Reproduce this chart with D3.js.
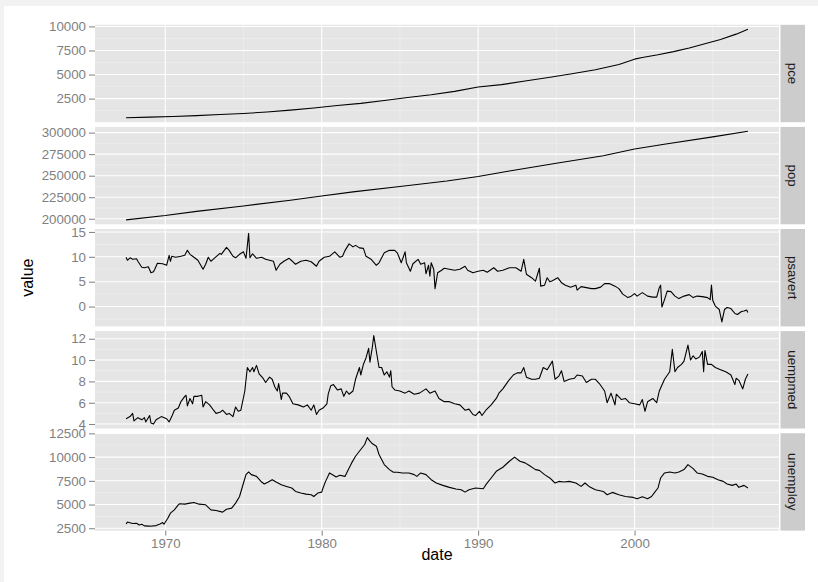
<!DOCTYPE html>
<html><head><meta charset="utf-8">
<script src="https://cdn.jsdelivr.net/npm/d3@7"></script>
<style>html,body{margin:0;padding:0;background:#f2f2f2;}svg{display:block;}</style>
</head><body>
<svg id="chart" width="818" height="582"></svg>
<script>
// ---------- DATA ----------
const facetNames = ["pce", "pop", "psavert", "uempmed", "unemploy"];

const pce = [["1967-07",507],["1969-01",575],["1970-07",645],["1972-01",730],["1973-07",840],["1975-01",950],
["1976-07",1110],["1978-01",1300],["1979-07",1530],["1981-01",1780],["1982-07",2000],["1984-01",2300],
["1985-07",2620],["1987-01",2900],["1988-07",3250],["1990-01",3700],["1991-07",3950],["1993-01",4330],
["1994-07",4700],["1996-01",5080],["1997-07",5500],["1999-01",6050],["2000-01",6600],["2000-07",6780],
["2001-07",7050],["2002-07",7380],["2003-07",7750],["2004-07",8200],["2005-07",8650],["2006-07",9200],["2007-04",9710]];

const pop = [["1967-07",198712],["1970-01",203700],["1972-01",208600],["1975-01",214900],["1978-01",221500],
["1980-01",226500],["1982-01",231200],["1985-01",237500],["1988-01",243900],["1990-01",249000],["1992-01",255400],
["1995-01",264500],["1998-01",273200],["2000-01",280900],["2002-01",286700],["2005-01",295100],["2007-04",301500]];

const psavert = [["1967-07",9.9],["1967-08",9.3],["1967-10",9.8],["1967-12",9.5],["1968-03",9.6],["1968-04",9.1],
["1968-07",7.9],["1968-09",7.8],["1968-12",8.0],["1969-02",6.8],["1969-04",7.0],["1969-05",7.5],["1969-07",8.7],
["1969-11",8.6],["1970-02",8.3],["1970-04",10.3],["1970-05",9.1],["1970-06",10.1],["1970-09",9.9],["1971-01",10.1],
["1971-04",10.3],["1971-06",11.3],["1971-08",10.5],["1971-11",9.9],["1972-02",9.3],["1972-06",7.5],["1972-08",8.5],
["1972-10",9.9],["1972-12",9.1],["1973-03",9.8],["1973-07",10.7],["1973-08",10.5],["1973-12",11.9],["1974-02",11.3],
["1974-05",10.1],["1974-07",9.8],["1974-10",10.5],["1975-01",11.0],["1975-03",9.7],["1975-05",14.7],["1975-06",9.8],
["1975-08",10.6],["1975-11",9.7],["1976-03",9.9],["1976-06",9.5],["1976-12",9.1],["1977-02",7.3],["1977-05",8.5],
["1977-08",9.1],["1977-12",9.7],["1978-03",9.0],["1978-05",8.5],["1978-09",9.1],["1979-01",9.3],["1979-05",9.0],
["1979-09",8.1],["1979-11",9.1],["1980-03",9.9],["1980-07",10.1],["1980-11",11.0],["1981-03",9.9],["1981-05",10.1],
["1981-07",11.3],["1981-10",12.6],["1982-01",12.0],["1982-03",12.3],["1982-06",11.8],["1982-09",11.7],["1982-11",10.1],
["1983-03",9.5],["1983-07",8.3],["1983-09",8.8],["1984-01",10.8],["1984-05",11.3],["1984-09",11.3],["1984-11",10.8],
["1985-02",8.8],["1985-05",11.0],["1985-06",8.8],["1985-09",7.1],["1985-11",8.6],["1986-03",9.5],["1986-05",8.5],
["1986-08",8.8],["1986-09",6.6],["1986-11",8.3],["1986-12",6.1],["1987-01",8.8],["1987-03",7.5],["1987-04",3.6],
["1987-06",6.8],["1987-09",7.3],["1987-11",7.7],["1988-03",7.5],["1988-07",7.3],["1988-11",7.5],["1989-03",8.1],
["1989-05",7.3],["1989-09",6.8],["1990-01",7.1],["1990-05",7.3],["1990-08",6.9],["1991-01",7.8],["1991-04",7.1],
["1991-08",7.3],["1992-01",7.8],["1992-06",7.8],["1992-10",7.1],["1992-12",9.5],["1993-02",6.5],["1993-06",5.8],
["1993-09",5.1],["1993-12",7.7],["1994-01",4.1],["1994-04",4.3],["1994-06",5.8],["1994-08",5.0],["1994-10",5.2],
["1995-02",5.8],["1995-05",4.8],["1995-08",4.3],["1995-12",3.9],["1996-04",4.3],["1996-05",3.3],["1996-08",4.0],
["1996-12",3.8],["1997-04",3.6],["1997-07",3.6],["1997-11",3.9],["1998-02",4.6],["1998-06",4.6],["1998-10",4.1],
["1999-01",3.6],["1999-04",2.5],["1999-08",1.8],["1999-10",2.0],["2000-01",2.6],["2000-03",2.1],["2000-07",2.8],
["2000-11",2.1],["2001-03",1.9],["2001-06",1.9],["2001-08",3.8],["2001-09",4.3],["2001-10",-0.1],["2001-12",1.4],
["2002-02",3.1],["2002-05",3.0],["2002-08",2.1],["2002-11",1.6],["2003-03",2.1],["2003-07",2.4],["2003-10",1.8],
["2004-01",2.1],["2004-05",2.0],["2004-09",1.8],["2004-11",1.4],["2004-12",4.3],["2005-01",1.2],["2005-03",0.1],
["2005-06",-0.6],["2005-08",-3.1],["2005-10",-0.6],["2005-12",-0.2],["2006-03",-0.4],["2006-06",-1.4],["2006-08",-1.6],
["2006-11",-1.0],["2007-01",-0.9],["2007-03",-0.7],["2007-04",-1.2]];

const uempmed = [["1967-07",4.5],["1967-10",4.7],["1967-12",5.0],["1968-01",4.3],["1968-04",4.6],["1968-07",4.4],
["1968-09",4.6],["1968-10",4.2],["1969-01",4.8],["1969-02",4.1],["1969-04",4.0],["1969-06",4.4],["1969-10",4.7],
["1970-02",4.5],["1970-04",4.2],["1970-06",4.7],["1970-08",5.3],["1970-11",5.5],["1971-01",6.1],["1971-04",6.6],
["1971-05",6.7],["1971-06",5.7],["1971-08",6.4],["1971-10",5.9],["1971-11",6.6],["1972-02",6.6],["1972-05",6.7],
["1972-06",5.6],["1972-08",6.1],["1972-11",5.8],["1973-02",5.3],["1973-04",5.0],["1973-07",5.1],["1973-09",5.3],
["1973-12",4.9],["1974-02",5.0],["1974-05",4.7],["1974-07",5.6],["1974-09",5.2],["1974-11",5.3],["1975-02",7.1],
["1975-04",9.3],["1975-06",8.9],["1975-08",9.3],["1975-09",8.9],["1975-11",9.5],["1976-01",8.7],["1976-04",8.3],
["1976-06",7.9],["1976-09",8.4],["1976-11",8.2],["1977-01",7.5],["1977-03",7.1],["1977-04",7.8],["1977-06",6.3],
["1977-07",6.9],["1977-10",6.9],["1977-12",6.6],["1978-03",5.9],["1978-07",5.8],["1978-11",5.6],["1979-02",5.8],
["1979-05",5.3],["1979-07",5.8],["1979-09",4.9],["1979-11",5.3],["1980-02",5.5],["1980-05",5.9],["1980-06",6.8],
["1980-08",7.6],["1980-10",7.7],["1981-01",7.2],["1981-04",7.3],["1981-06",6.6],["1981-08",7.1],["1981-10",6.8],
["1982-01",7.1],["1982-03",8.2],["1982-06",9.3],["1982-07",8.6],["1982-09",9.6],["1982-11",10.2],["1983-01",11.1],
["1983-02",9.8],["1983-04",11.3],["1983-05",12.3],["1983-07",10.8],["1983-09",9.3],["1983-11",9.3],["1984-01",8.6],
["1984-03",8.9],["1984-05",8.4],["1984-06",9.0],["1984-07",7.5],["1984-09",7.2],["1985-01",7.1],["1985-05",6.9],
["1985-08",7.1],["1985-12",6.8],["1986-04",6.9],["1986-09",7.3],["1986-12",6.9],["1987-04",7.1],["1987-07",6.4],
["1987-11",6.1],["1988-03",6.1],["1988-07",5.9],["1988-11",5.8],["1989-03",5.3],["1989-06",5.4],["1989-09",4.9],
["1989-11",4.8],["1990-02",5.2],["1990-04",4.8],["1990-07",5.3],["1990-11",5.8],["1991-03",6.4],["1991-05",6.9],
["1991-08",7.3],["1991-12",8.0],["1992-04",8.6],["1992-07",8.8],["1992-10",8.8],["1992-12",9.3],["1993-02",8.4],
["1993-06",8.2],["1993-09",8.2],["1993-12",8.3],["1994-03",9.3],["1994-06",9.1],["1994-10",9.9],["1994-12",8.2],
["1995-03",8.5],["1995-05",9.0],["1995-07",8.0],["1995-11",8.2],["1996-03",8.3],["1996-05",8.6],["1996-09",8.5],
["1996-12",7.9],["1997-04",8.2],["1997-07",8.2],["1997-10",7.8],["1998-02",7.1],["1998-04",6.0],["1998-07",6.9],
["1998-10",5.8],["1998-11",6.8],["1999-03",6.3],["1999-06",6.4],["1999-09",6.0],["2000-01",5.9],["2000-05",5.8],
["2000-07",6.3],["2000-09",5.2],["2000-11",6.1],["2001-03",6.4],["2001-06",6.0],["2001-08",7.1],["2001-12",8.2],
["2002-04",8.9],["2002-06",11.0],["2002-08",8.9],["2002-10",9.3],["2003-01",9.6],["2003-03",9.9],["2003-06",11.4],
["2003-08",10.0],["2003-10",10.4],["2003-12",10.1],["2004-03",10.3],["2004-05",10.8],["2004-06",8.9],["2004-07",10.9],
["2004-09",9.6],["2004-12",9.6],["2005-03",9.3],["2005-07",9.1],["2005-11",8.9],["2006-03",8.6],["2006-06",7.7],
["2006-07",8.3],["2006-09",8.1],["2006-12",7.3],["2007-02",8.2],["2007-04",8.7]];

const unemploy = [["1967-07",2944],["1967-08",3150],["1967-12",3000],["1968-03",3030],["1968-05",2850],["1968-07",2920],
["1968-09",2750],["1969-01",2720],["1969-06",2780],["1969-09",2960],["1969-11",3100],["1969-12",2920],["1970-03",3560],
["1970-05",4090],["1970-08",4440],["1970-11",4970],["1970-12",5080],["1971-04",5040],["1971-08",5150],["1971-11",5220],
["1972-03",5040],["1972-08",4970],["1972-12",4440],["1973-04",4370],["1973-09",4200],["1973-12",4510],["1974-04",4620],
["1974-07",5150],["1974-10",5850],["1975-01",7270],["1975-03",8150],["1975-05",8430],["1975-07",8150],["1975-11",7970],
["1976-03",7370],["1976-05",7160],["1976-08",7370],["1976-11",7620],["1977-02",7370],["1977-06",7090],["1977-10",6910],
["1978-02",6740],["1978-05",6380],["1978-09",6210],["1979-01",6100],["1979-05",6030],["1979-07",5850],["1979-10",6210],
["1980-01",6310],["1980-02",6740],["1980-04",7440],["1980-07",8330],["1980-10",8080],["1980-12",7900],["1981-03",8080],
["1981-07",7970],["1981-09",8570],["1981-12",9390],["1982-03",10090],["1982-07",10800],["1982-10",11330],["1982-12",12051],
["1983-02",11680],["1983-04",11400],["1983-07",11150],["1983-09",10270],["1984-01",9210],["1984-05",8680],["1984-08",8400],
["1984-11",8400],["1985-03",8330],["1985-08",8330],["1985-12",8150],["1986-02",7970],["1986-05",8330],["1986-09",8150],
["1987-01",7620],["1987-05",7270],["1987-10",7020],["1988-03",6810],["1988-08",6630],["1988-12",6560],["1989-03",6310],
["1989-06",6560],["1989-11",6740],["1990-05",6670],["1990-07",7090],["1990-11",7800],["1991-03",8500],["1991-08",8930],
["1992-01",9560],["1992-05",9990],["1992-09",9560],["1993-01",9390],["1993-04",9140],["1993-09",8680],["1993-12",8600],
["1994-04",8150],["1994-08",7800],["1994-12",7270],["1995-03",7440],["1995-07",7370],["1995-11",7440],["1996-04",7270],
["1996-08",6910],["1996-11",7270],["1997-02",6910],["1997-07",6560],["1998-01",6380],["1998-04",6030],["1998-08",6280],
["1999-01",6030],["1999-06",5850],["1999-12",5750],["2000-03",5610],["2000-07",5820],["2000-11",5610],["2001-02",5850],
["2001-04",6210],["2001-07",6740],["2001-09",7800],["2001-12",8330],["2002-04",8430],["2002-08",8330],["2002-11",8430],
["2003-03",8680],["2003-06",9210],["2003-10",8790],["2004-01",8330],["2004-05",8220],["2004-09",7970],["2005-01",7870],
["2005-05",7620],["2005-09",7440],["2005-12",7160],["2006-04",7020],["2006-07",7160],["2006-09",6810],["2007-01",7020],
["2007-04",6740]];

const xTickLabels = ["1970", "1980", "1990", "2000"];
const pceTicks = [2500, 5000, 7500, 10000];
const popTicks = [200000, 225000, 250000, 275000, 300000];
const psavertTicks = [0, 5, 10, 15];
const uempmedTicks = [4, 6, 8, 10, 12];
const unemployTicks = [2500, 5000, 7500, 10000, 12500];

// ---------- LAYOUT ----------
const W = 818, H = 582;
const panelL = 95, panelR = 779;
const panelTop = 24.8, panelH = 97.4, panelGap = 4.7;
const stripX = 780.5, stripW = 24.5;
const font = "'Liberation Sans', Arial, Helvetica, sans-serif";

const parse = d3.timeParse("%Y-%m");
const seriesList = [pce, pop, psavert, uempmed, unemploy];
const tickList = [pceTicks, popTicks, psavertTicks, uempmedTicks, unemployTicks];
const facets = facetNames.map((name, i) => ({
  name,
  data: seriesList[i].map(([d, v]) => ({date: parse(d), value: v})),
  ticks: tickList[i]
}));

const svg = d3.select("#chart");
svg.append("rect").attr("width", W).attr("height", H).attr("fill", "#f2f2f2");
svg.append("rect").attr("x", 4).attr("y", 6).attr("width", W - 4).attr("height", H - 6).attr("fill", "#ffffff");

const allDates = facets.flatMap(f => f.data.map(d => d.date));
const dExt = d3.extent(allDates);
const dPad = (dExt[1] - dExt[0]) * 0.05;
const x = d3.scaleTime()
  .domain([new Date(+dExt[0] - dPad), new Date(+dExt[1] + dPad)])
  .range([panelL, panelR]);
const xMajor = xTickLabels.map(s => d3.timeParse("%Y")(s));
const xMinor = [];
for (let i = 0; i <= xMajor.length; i++) {
  const a = i === 0 ? new Date(+xMajor[0] - (xMajor[1] - xMajor[0])) : xMajor[i - 1];
  const b = i === xMajor.length ? new Date(+xMajor[i - 1] + (xMajor[1] - xMajor[0])) : xMajor[i];
  const m = new Date((+a + +b) / 2);
  if (m >= x.domain()[0] && m <= x.domain()[1]) xMinor.push(m);
}

const fmt = d3.format("d");

facets.forEach((f, i) => {
  const top = panelTop + i * (panelH + panelGap);
  const bottom = top + panelH;
  const vExt = d3.extent(f.data, d => d.value);
  const vPad = (vExt[1] - vExt[0]) * 0.05;
  const y = d3.scaleLinear().domain([vExt[0] - vPad, vExt[1] + vPad]).range([bottom, top]);
  const g = svg.append("g");

  g.append("rect").attr("x", panelL).attr("y", top).attr("width", panelR - panelL).attr("height", panelH).attr("fill", "#e5e5e5");

  // minor y grid
  const step = f.ticks[1] - f.ticks[0];
  const yMinor = [];
  for (let k = -1; k < f.ticks.length; k++) {
    const m = f.ticks[0] + step * (k + 0.5);
    if (m >= y.domain()[0] && m <= y.domain()[1]) yMinor.push(m);
  }
  g.selectAll(".ymin").data(yMinor).join("line")
    .attr("x1", panelL).attr("x2", panelR).attr("y1", d => y(d)).attr("y2", d => y(d))
    .attr("stroke", "#f2f2f2").attr("stroke-width", 0.55);
  g.selectAll(".xmin").data(xMinor).join("line")
    .attr("x1", d => x(d)).attr("x2", d => x(d)).attr("y1", top).attr("y2", bottom)
    .attr("stroke", "#f2f2f2").attr("stroke-width", 0.55);
  // major grid
  g.selectAll(".ymaj").data(f.ticks).join("line")
    .attr("x1", panelL).attr("x2", panelR).attr("y1", d => y(d)).attr("y2", d => y(d))
    .attr("stroke", "#ffffff").attr("stroke-width", 1.1);
  g.selectAll(".xmaj").data(xMajor).join("line")
    .attr("x1", d => x(d)).attr("x2", d => x(d)).attr("y1", top).attr("y2", bottom)
    .attr("stroke", "#ffffff").attr("stroke-width", 1.1);

  // line
  const line = d3.line().x(d => x(d.date)).y(d => y(d.value));
  g.append("path").datum(f.data).attr("d", line)
    .attr("fill", "none").attr("stroke", "#000").attr("stroke-width", 1.1).attr("stroke-linejoin", "round");

  // y axis
  const yAxis = d3.axisLeft(y).tickValues(f.ticks).tickFormat(fmt).tickSize(6).tickPadding(3);
  const ax = svg.append("g").attr("transform", `translate(${panelL},0)`).call(yAxis);
  ax.select(".domain").remove();
  ax.selectAll(".tick line").attr("stroke", "#7f7f7f");
  ax.selectAll(".tick text").attr("fill", "#7f7f7f").style("font-family", font).style("font-size", "13.3px");

  // strip
  svg.append("rect").attr("x", stripX).attr("y", top).attr("width", stripW).attr("height", panelH).attr("fill", "#cccccc");
  svg.append("text")
    .attr("transform", `translate(${stripX + stripW / 2},${top + panelH / 2}) rotate(90)`)
    .attr("text-anchor", "middle").attr("dy", "0.35em")
    .attr("fill", "#1a1a1a").style("font-family", font).style("font-size", "13.3px")
    .text(f.name);

  if (i === facets.length - 1) {
    const xAxis = d3.axisBottom(x).tickValues(xMajor).tickFormat(d3.timeFormat("%Y")).tickSize(5).tickPadding(3);
    const bx = svg.append("g").attr("transform", `translate(0,${bottom})`).call(xAxis);
    bx.select(".domain").remove();
    bx.selectAll(".tick line").attr("stroke", "#7f7f7f");
    bx.selectAll(".tick text").attr("fill", "#7f7f7f").style("font-family", font).style("font-size", "13.3px");
  }
});

// axis titles
svg.append("text").attr("x", (panelL + panelR) / 2).attr("y", 560).attr("text-anchor", "middle")
  .style("font-family", font).style("font-size", "16px").attr("fill", "#000").text("date");
svg.append("text").attr("transform", `translate(32.5,${panelTop + (5 * panelH + 4 * panelGap) / 2}) rotate(-90)`)
  .attr("text-anchor", "middle").style("font-family", font).style("font-size", "16px").attr("fill", "#000").text("value");
</script>
</body></html>
